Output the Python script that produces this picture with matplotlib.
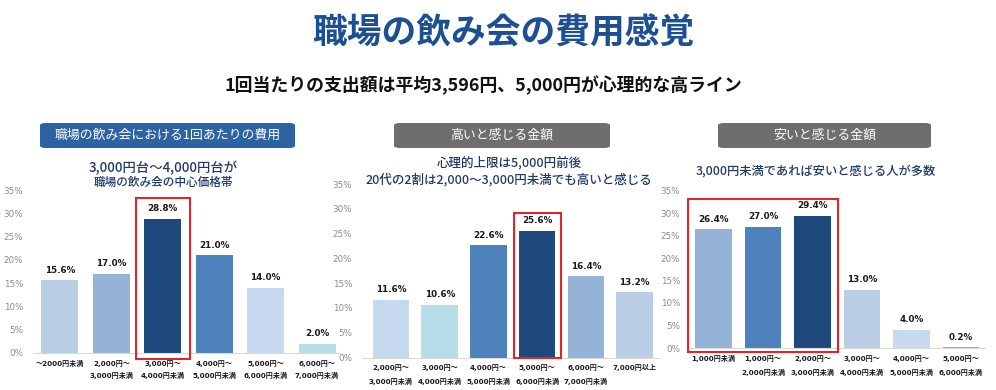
import matplotlib
matplotlib.use("Agg")
import matplotlib.pyplot as plt
from matplotlib.patches import Rectangle, FancyBboxPatch
from matplotlib.transforms import Bbox, TransformedBbox, offset_copy

plt.rcParams['font.family'] = ['DejaVu Sans', 'Noto Sans CJK JP']

# ---------------- data ----------------
main_title = "職場の飲み会の費用感覚"
main_subtitle = "1回当たりの支出額は平均3,596円、5,000円が心理的な高ライン"

p1_header = "職場の飲み会における1回あたりの費用"
p1_note = ["3,000円台～4,000円台が", "職場の飲み会の中心価格帯"]
p1_cats = ["～2000円未満", "2,000円～\n3,000円未満", "3,000円～\n4,000円未満",
           "4,000円～\n5,000円未満", "5,000円～\n6,000円未満", "6,000円～\n7,000円未満"]
p1_vals = [15.6, 17.0, 28.8, 21.0, 14.0, 2.0]
p1_colors = ["#b9cde5", "#95b3d7", "#1f497d", "#4f81bd", "#c6d9f1", "#b7dee8"]
p1_highlight = [2]

p2_header = "高いと感じる金額"
p2_note = ["心理的上限は5,000円前後", "20代の2割は2,000～3,000円未満でも高いと感じる"]
p2_cats = ["2,000円～\n3,000円未満", "3,000円～\n4,000円未満", "4,000円～\n5,000円未満",
           "5,000円～\n6,000円未満", "6,000円～\n7,000円未満", "7,000円以上"]
p2_vals = [11.6, 10.6, 22.6, 25.6, 16.4, 13.2]
p2_colors = ["#c6d9f1", "#b7dee8", "#4f81bd", "#1f497d", "#95b3d7", "#b9cde5"]
p2_highlight = [3]

p3_header = "安いと感じる金額"
p3_note = ["3,000円未満であれば安いと感じる人が多数"]
p3_cats = ["1,000円未満", "1,000円～\n2,000円未満", "2,000円～\n3,000円未満",
           "3,000円～\n4,000円未満", "4,000円～\n5,000円未満", "5,000円～\n6,000円未満"]
p3_vals = [26.4, 27.0, 29.4, 13.0, 4.0, 0.2]
p3_colors = ["#95b3d7", "#4f81bd", "#1f497d", "#b9cde5", "#c6d9f1", "#8eaad0"]
p3_highlight = [0, 1, 2]

yticks = [0, 5, 10, 15, 20, 25, 30, 35]

# ---------------- layout ----------------
W, H = 996, 390
fig = plt.figure(figsize=(W / 100, H / 100), dpi=100)
fig.patch.set_facecolor("white")

JP = ['Noto Sans CJK JP', 'DejaVu Sans']
NUM = ['DejaVu Sans', 'Noto Sans CJK JP']


def fx(px):
    return px / W


def fy(py):
    return 1 - py / H


fig.text(fx(503), fy(33), main_title, ha='center', va='center', fontsize=25,
         fontweight='bold', color='#1d5093', family=JP)
fig.text(fx(483), fy(85), main_subtitle, ha='center', va='center', fontsize=12.9,
         fontweight='bold', color='#111111', family=JP)

panels = [
    dict(header=p1_header, note=p1_note, cats=p1_cats, vals=p1_vals, colors=p1_colors,
         hl=p1_highlight, box=(40, 295), boxcolor="#2d62a3",
         ax_px=(33, 340, 190, 353), xlim=(-0.525, 5.447), width=0.72,
         note_y=[168, 182], note_x=163, note_fs=[9.6, 8.4],
         lab_off=5, lab_ls=1.85, hl_pad=(0.17, 33.3, -1.3), clipx=338),
    dict(header=p2_header, note=p2_note, cats=p2_cats, vals=p2_vals, colors=p2_colors,
         hl=p2_highlight, box=(394, 610), boxcolor="#6e6e6e",
         ax_px=(362, 660, 184, 357.5), xlim=(-0.595, 5.52), width=0.75,
         note_y=[163, 180], note_x=509, note_fs=[9.0, 9.0],
         lab_off=5, lab_ls=2.15, hl_pad=(0.105, 29.15, -0.1), clipx=None),
    dict(header=p3_header, note=p3_note, cats=p3_cats, vals=p3_vals, colors=p3_colors,
         hl=p3_highlight, box=(718, 931), boxcolor="#6e6e6e",
         ax_px=(690, 985, 190.5, 348), xlim=(-0.475, 5.485), width=0.74,
         note_y=[171], note_x=816, note_fs=[8.8],
         lab_off=5, lab_ls=2.15, hl_pad=(0.15, 33.1, -0.9), clipx=None),
]

for p in panels:
    # header box
    x0, x1 = p['box']
    bx = FancyBboxPatch((fx(x0), fy(148)), fx(x1 - x0), (148 - 123) / H,
                        boxstyle="round,pad=0,rounding_size=0.006",
                        transform=fig.transFigure, facecolor=p['boxcolor'],
                        edgecolor='none', zorder=1)
    fig.patches.append(bx)
    fig.text(fx((x0 + x1) / 2), fy(135.5), p['header'], ha='center', va='center',
             fontsize=9.3, color='white', family=JP, zorder=2)
    # notes
    for line, yy, fs in zip(p['note'], p['note_y'], p['note_fs']):
        fig.text(fx(p['note_x']), fy(yy), line, ha='center', va='center',
                 fontsize=fs, color='#1f3a68', fontweight='medium', family=JP)

    L, R, T, B = p['ax_px']
    ax = fig.add_axes([fx(L), fy(B), (R - L) / W, (B - T) / H])
    ax.set_facecolor('none')
    n = len(p['vals'])
    xs = list(range(n))
    ax.bar(xs, p['vals'], width=p['width'], color=p['colors'], zorder=2)
    ax.set_xlim(*p['xlim'])
    ax.set_ylim(0, 35)
    ax.set_yticks(yticks)
    ax.set_yticklabels([f"{t}%" for t in yticks], fontsize=6.3, color='#8c8c8c')
    ax.tick_params(axis='y', length=0, pad=7)
    ax.set_xticks([])
    for s in ['top', 'right', 'left']:
        ax.spines[s].set_visible(False)
    ax.spines['bottom'].set_color('#d9d9d9')
    ax.spines['bottom'].set_linewidth(0.8)

    # value labels
    for xi, v in zip(xs, p['vals']):
        ax.annotate(f"{v:.1f}%", (xi, v), xytext=(0, 4), textcoords='offset points',
                    ha='center', va='bottom', fontsize=6.3, fontweight='bold',
                    color='#1a1a1a', family=NUM)

    # category labels
    tr = offset_copy(ax.get_xaxis_transform(), fig=fig, x=0, y=-p['lab_off'],
                     units='points')
    for xi, c in zip(xs, p['cats']):
        t = ax.text(xi, 0, c, transform=tr, ha='center', va='top', fontsize=5.1,
                    fontweight='bold', color='#1a1a1a', linespacing=p['lab_ls'],
                    family=NUM, clip_on=False)
        if p['clipx'] is not None:
            t.set_clip_on(True)
            t.set_clip_box(TransformedBbox(Bbox([[0, 0], [fx(p['clipx']), 1]]),
                                           fig.transFigure))

    # highlight box
    hl = p['hl']
    padx, top, bot = p['hl_pad']
    left = min(hl) - p['width'] / 2 - padx
    right = max(hl) + p['width'] / 2 + padx
    ax.add_patch(Rectangle((left, bot), right - left, top - bot, fill=False,
                           edgecolor='#e0262b', linewidth=1.5, clip_on=False, zorder=3))

fig.savefig("out.png", dpi=100, facecolor='white')
